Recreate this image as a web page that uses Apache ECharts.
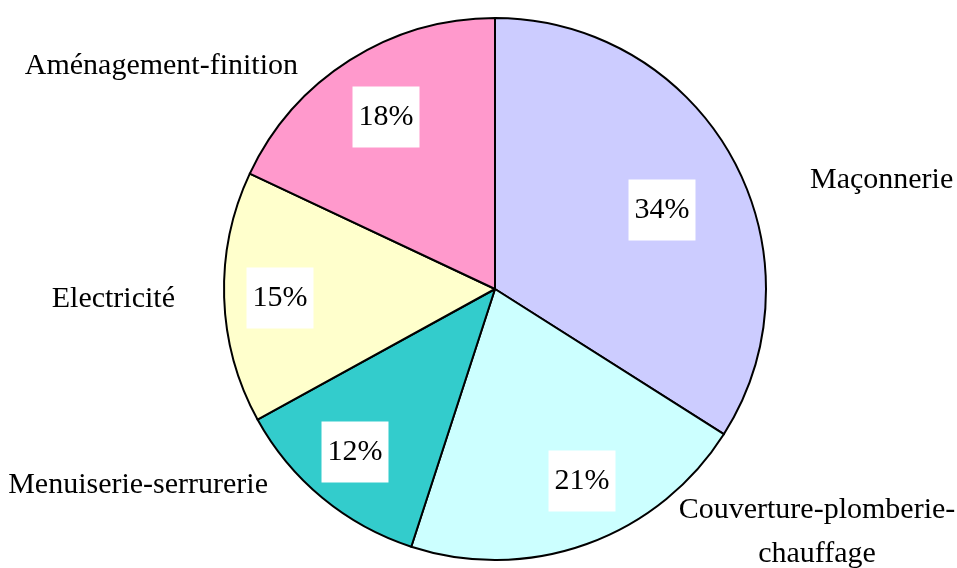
<!DOCTYPE html>
<html>
<head>
<meta charset="utf-8">
<script src="https://cdn.jsdelivr.net/npm/echarts@6/dist/echarts.min.js"></script>
<style>
  html, body { margin: 0; padding: 0; background: #fff; }
  #chart { width: 957px; height: 568px; }
</style>
</head>
<body>
<div id="chart"></div>
<script>
// Répartition des corps d'état (en %)
const categories = [
  'Maçonnerie',
  'Couverture-plomberie-\nchauffage',
  'Menuiserie-serrurerie',
  'Electricité',
  'Aménagement-finition'
];
const shares = [34, 21, 12, 15, 18];
const sliceColors = ['#CCCCFF', '#CCFFFF', '#33CCCC', '#FFFFCC', '#FF99CC'];

// Label placement (pixel anchors)
const percentAnchors = [[662, 210], [582, 481], [355, 452], [280, 298], [386, 117]];
const nameAnchors = [
  { x: 810, y: 180, align: 'left' },
  { x: 817, y: 532, align: 'center' },
  { x: 268, y: 485, align: 'right' },
  { x: 175, y: 299, align: 'right' },
  { x: 298, y: 66, align: 'right' }
];

const FONT = '"Liberation Serif", "Times New Roman", serif';
const pieCenter = [495, 289];
const pieRadius = 271;

const pieData = categories.map((name, i) => ({
  name: name,
  value: shares[i],
  itemStyle: { color: sliceColors[i] }
}));

const chart = echarts.init(document.getElementById('chart'), null, { renderer: 'canvas' });
chart.setOption({
  animation: false,
  backgroundColor: '#ffffff',
  series: [
    {
      type: 'pie',
      center: pieCenter,
      radius: pieRadius,
      startAngle: 90,
      clockwise: true,
      avoidLabelOverlap: false,
      silent: true,
      itemStyle: { borderColor: '#000', borderWidth: 2 },
      label: {
        show: true,
        position: 'inside',
        formatter: p => p.value + '%',
        fontFamily: FONT,
        fontSize: 30,
        color: '#000',
        backgroundColor: '#ffffff',
        lineHeight: 34,
        padding: [14, 6, 13, 6]
      },
      labelLine: { show: false },
      labelLayout: p => {
        const a = percentAnchors[p.dataIndex];
        return { x: a[0], y: a[1], align: 'center', verticalAlign: 'middle' };
      },
      data: pieData
    },
    {
      type: 'pie',
      center: pieCenter,
      radius: pieRadius,
      startAngle: 90,
      clockwise: true,
      avoidLabelOverlap: false,
      silent: true,
      itemStyle: { color: 'transparent', borderWidth: 0 },
      label: {
        show: true,
        position: 'outside',
        formatter: '{b}',
        fontFamily: FONT,
        fontSize: 30,
        color: '#000',
        lineHeight: 44,
        align: 'center'
      },
      labelLine: { show: false },
      labelLayout: p => {
        const a = nameAnchors[p.dataIndex];
        return { x: a.x, y: a.y, align: a.align, verticalAlign: 'middle' };
      },
      data: categories.map((name, i) => ({ name: name, value: shares[i] }))
    }
  ]
});
</script>
</body>
</html>
